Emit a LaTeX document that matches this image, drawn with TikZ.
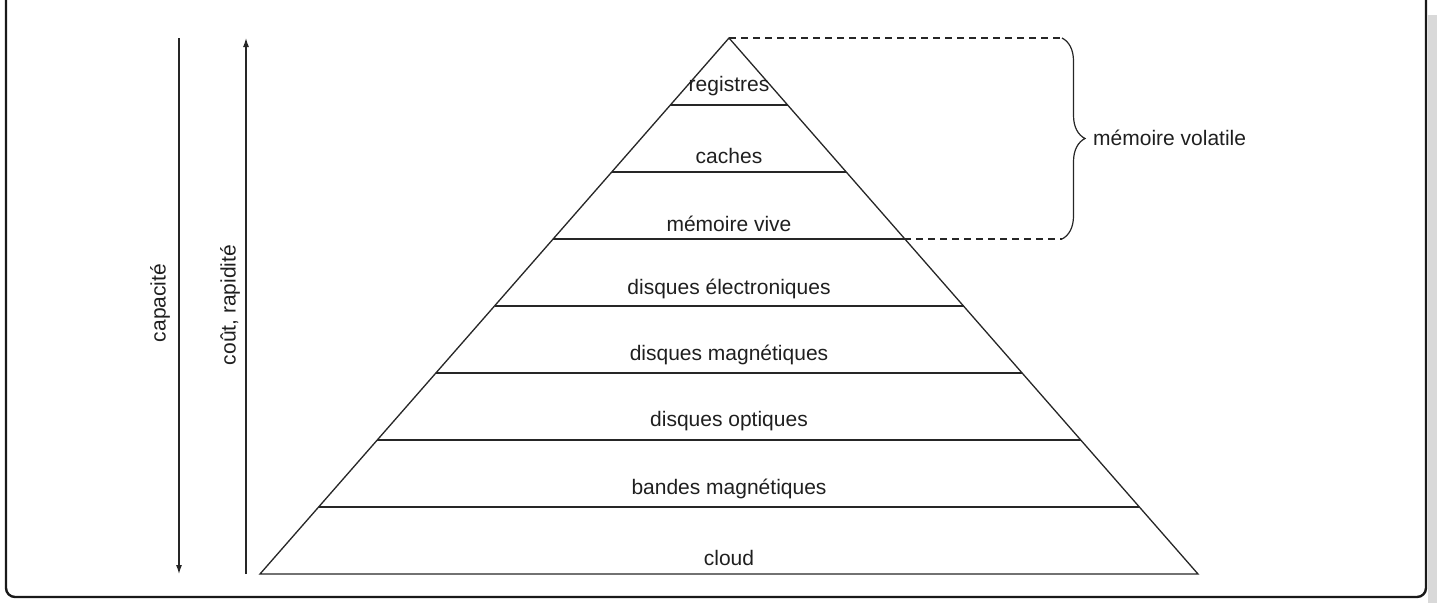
\documentclass[tikz,border=0pt]{standalone}
\usepackage{fontspec}
\setmainfont{Liberation Sans}
\usetikzlibrary{arrows.meta,decorations.pathreplacing}
\begin{document}
\begin{tikzpicture}[x=1pt,y=-1pt,
  lbl/.style={font=\fontsize{21}{25}\selectfont, text=black!88, inner sep=0pt},
  ln/.style={line width=1.3pt, black!85},
  axis/.style={line width=1.2pt, black!85, -{Latex[length=9pt,width=6pt]}},
  guide/.style={line width=1.2pt, black!85, dash pattern=on 7pt off 5pt}]
\useasboundingbox (0,0) rectangle (1437,603);
% window frame and scrollbar strip
\fill[black!15] (1428,15) rectangle (1437,603);
\draw[line width=2.4pt, black!90, rounded corners=9pt] (6,0) -- (6,597) -- (1426,597) -- (1426,0);

% pyramid outline
\coordinate (apex) at (729,38);
\coordinate (bl) at (260,574);
\coordinate (br) at (1198,574);
\draw[ln] (bl) -- (apex) -- (br) -- cycle;

% level separators
\foreach \k in {1,...,7}{
  \pgfmathsetmacro{\yy}{38+67*\k}
  \pgfmathsetmacro{\hw}{0.875*67*\k}
  \draw[ln] (729-\hw,\yy) -- (729+\hw,\yy);
}

% level labels
\node[lbl] (l1) at (729,86) {registres};
\node[lbl] (l2) at (729,156) {caches};
\node[lbl] (l3) at (729,224) {mémoire vive};
\node[lbl] (l4) at (729,289) {disques électroniques};
\node[lbl] (l5) at (729,355) {disques magnétiques};
\node[lbl] (l6) at (729,421) {disques optiques};
\node[lbl] (l7) at (729,489) {bandes magnétiques};
\node[lbl] (l8) at (729,558) {cloud};

% volatile memory brace
\coordinate (mv) at (904,239);
\coordinate (bt) at (1062,38);
\coordinate (bb) at (1062,239);
\draw[guide] (apex) -- (bt);
\draw[guide] (mv) -- (bb);
\draw[line width=1.2pt, black!85, decorate, decoration={brace, amplitude=23pt}] (bt) -- (bb);
\node[lbl, anchor=west] (vol) at (1093,138) {mémoire volatile};

% side axes
\coordinate (c1) at (179,38);
\coordinate (c2) at (179,574);
\coordinate (r1) at (246,574);
\coordinate (r2) at (246,38);
\draw[axis] (c1) -- (c2);
\draw[axis] (r1) -- (r2);
\node[lbl, rotate=90] (cap) at (160,303) {capacité};
\node[lbl, rotate=90] (cout) at (230,305) {coût, rapidité};
\end{tikzpicture}
\end{document}
